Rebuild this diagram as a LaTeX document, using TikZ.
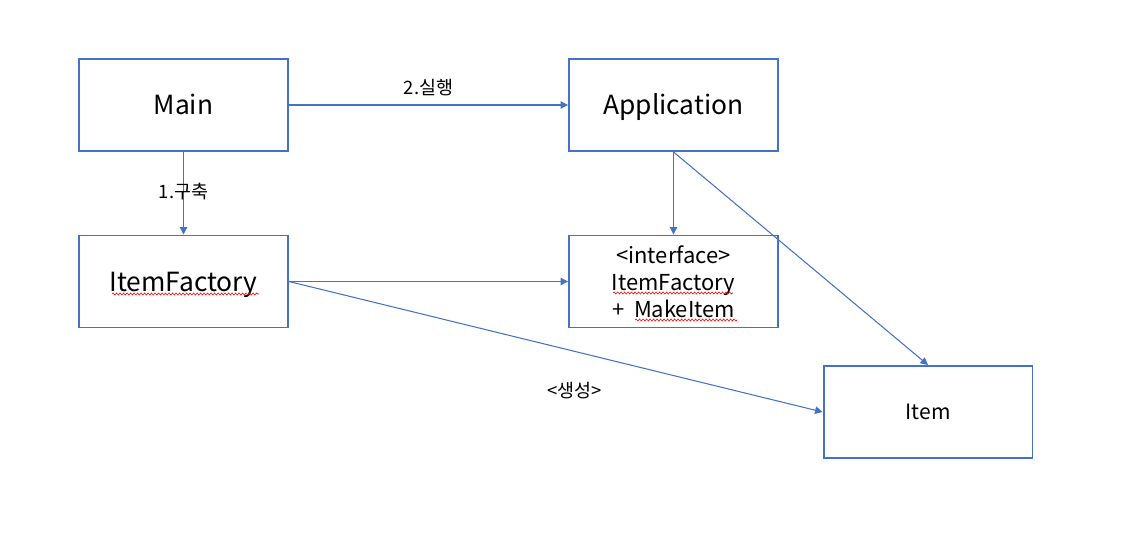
\documentclass[tikz,border=0pt]{standalone}
\usepackage{fontspec}
\setmainfont{Noto Sans CJK KR}
\usetikzlibrary{arrows.meta,decorations.pathmorphing}

\definecolor{boxblue}{HTML}{4472C4}

\newcommand*{\picw}{1125}
\newcommand*{\pich}{540}

\begin{document}
\begin{tikzpicture}
[
	x=0.02cm, y=-0.02cm,
	classbox/.style={draw=boxblue,line width=1.1pt,minimum width=4.18cm,minimum height=1.84cm,
		inner sep=0pt,font=\fontsize{15}{18}\selectfont},
	onerow/.style={text height=11pt,text depth=0pt},
	conn/.style={draw=boxblue,line width=0.6pt,-{Triangle[length=0.15cm,width=0.15cm]}},
	lbl/.style={font=\fontsize{10.5}{12}\selectfont},
	squiggle/.style={draw=red,line width=0.35pt,decorate,
		decoration={snake,segment length=0.07cm,amplitude=0.02cm}}
]
	\useasboundingbox (0,0) rectangle (\picw,\pich);

	% classes
	\node[classbox,onerow] (main) at (183.5,105) {Main};
	\node[classbox,onerow] (app) at (673.5,105) {Application};
	\node[classbox,onerow] (fact) at (183.5,281.5) {ItemFactory};
	\node[classbox,align=center,font=\fontsize{12.5}{15.3}\selectfont] (iface) at (673.5,281.5)
		{<interface>\\ItemFactory\\+\ \ MakeItem};
	\node[classbox,font=\fontsize{12}{14}\selectfont] (item) at (928,412) {Item};

	% spell-check marks
	\draw[squiggle] ([xshift=-1.43cm,yshift=-0.25cm]fact.center) -- ++(147,0);
	\draw[squiggle] ([xshift=-1.21cm,yshift=-0.23cm]iface.center) -- ++(120,0);
	\draw[squiggle] ([xshift=-0.77cm,yshift=-0.77cm]iface.center) -- ++(102,0);

	% connectors
	\draw[conn] (main.east) -- (app.west) node[lbl,midway,yshift=0.34cm] {2.실행};
	\draw[conn] (main.south) -- (fact.north) node[lbl,midway,yshift=0.04cm] {1.구축};
	\draw[conn] (app.south) -- (iface.north);
	\draw[conn] (app.south) -- (item.north);
	\draw[conn] (fact.east) -- (iface.west);
	\draw[conn] (fact.east) -- (item.west) node[lbl,pos=0.535,yshift=-0.78cm] {<생성>};

\end{tikzpicture}
\end{document}
